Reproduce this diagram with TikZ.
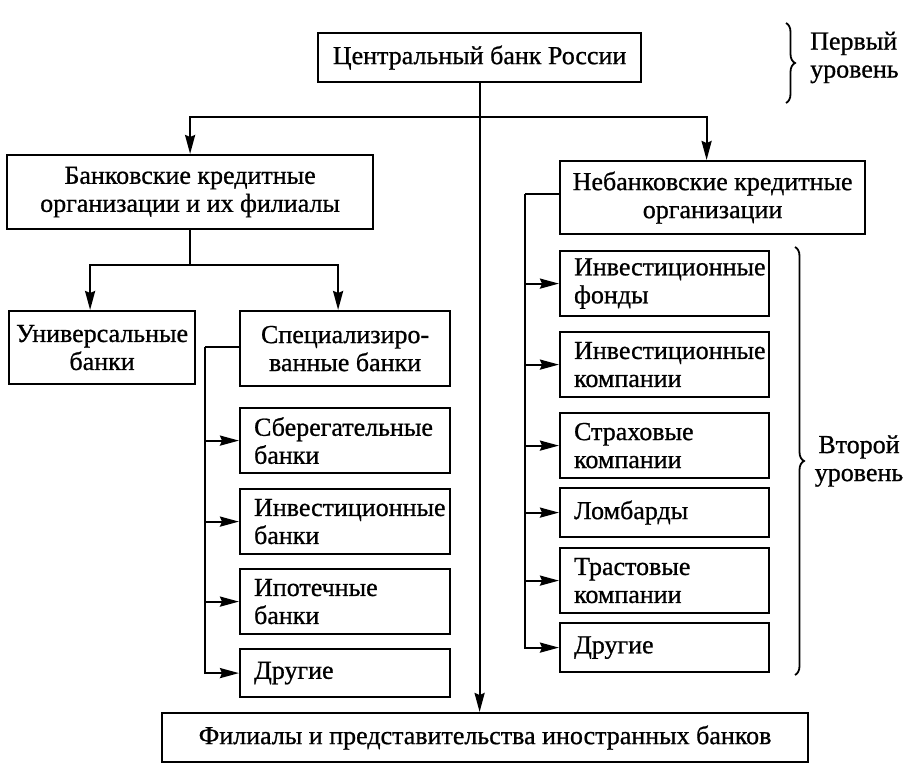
\documentclass[tikz,border=0pt]{standalone}
\usepackage{fontspec}
\setmainfont[FakeBold=0.8]{Liberation Serif}
\usetikzlibrary{arrows.meta,decorations.pathreplacing,calc}
\begin{document}
\begin{tikzpicture}[x=1pt,y=-1pt,
  txt/.style={font=\fontsize{26}{28}\selectfont},
  cbox/.style 2 args={draw,line width=2.2pt,anchor=north west,inner sep=0pt,txt,
     minimum width=#1pt,minimum height=#2pt,align=center},
  lbox/.style 2 args={draw,line width=2.2pt,anchor=north west,inner sep=0pt,txt,
     minimum width=#1pt,minimum height=#2pt,text width=#1pt-28pt,align=left},
  ln/.style={line width=2.2pt},
  arr/.style={line width=2.2pt,-{Stealth[length=19pt,width=10pt,inset=2pt]}},
  brc/.style={line width=1.8pt,decorate,decoration={brace,amplitude=9pt}}]
\useasboundingbox (0,0) rectangle (916,773);
% nodes
\node[cbox={323}{49}] (cb) at (317,32) {Центральный банк России};
\node[cbox={366}{74}] (bank) at (6,154) {Банковские кредитные\\организации и их филиалы};
\node[cbox={305}{73}] (nonbank) at (559,160) {Небанковские кредитные\\организации};
\node[cbox={186}{73}] (univ) at (8,310) {Универсальные\\банки};
\node[cbox={210}{75}] (spec) at (239,310) {Специализиро-\\ванные банки};
\node[lbox={210}{65}] (sav) at (239,407) {Сберегательные\\банки};
\node[lbox={210}{65}] (invb) at (239,488) {Инвестиционные\\банки};
\node[lbox={210}{65}] (mort) at (239,568) {Ипотечные\\банки};
\node[lbox={210}{48}] (oth1) at (239,648) {Другие};
\node[lbox={209}{65}] (fund) at (559,250) {Инвестиционные\\фонды};
\node[lbox={209}{65}] (invc) at (559,331) {Инвестиционные\\компании};
\node[lbox={209}{65}] (ins) at (559,412) {Страховые\\компании};
\node[lbox={209}{49}] (lomb) at (559,487) {Ломбарды};
\node[lbox={209}{65}] (trust) at (559,547) {Трастовые\\компании};
\node[lbox={209}{49}] (oth2) at (559,622) {Другие};
\node[cbox={646}{49}] (foreign) at (161,712) {Филиалы и представительства иностранных банков};
% connectors
\coordinate (j0) at (cb.south |- 0,117);
\draw[arr] (cb.south) -- (cb.south |- foreign.north);
\draw[arr] (j0) -| (bank.north);
\draw[arr] (j0) -| ($(nonbank.north)+(-6,0)$);
\coordinate (j1) at (bank.south |- 0,265);
\draw[ln] (bank.south) -- (j1);
\draw[arr] (j1) -| ($(univ.north)+(-12,0)$);
\draw[arr] (j1) -| ($(spec.north)+(-7,0)$);
\coordinate (s0) at (205,347);
\draw[ln] (spec.west |- s0) -- (s0);
\draw[arr] (s0) |- (oth1.west);
\draw[arr] (s0 |- sav.west) -- (sav.west);
\draw[arr] (s0 |- invb.west) -- (invb.west);
\draw[arr] (s0 |- mort.west) -- (mort.west);
\coordinate (n0) at (525,194);
\draw[ln] (nonbank.west |- n0) -- (n0);
\draw[arr] (n0) |- (oth2.west);
\draw[arr] (n0 |- fund.west) -- (fund.west);
\draw[arr] (n0 |- invc.west) -- (invc.west);
\draw[arr] (n0 |- ins.west) -- (ins.west);
\draw[arr] (n0 |- lomb.west) -- (lomb.west);
\draw[arr] (n0 |- trust.west) -- (trust.west);
% braces
\coordinate (b1a) at (786,23);
\coordinate (b1b) at (786,103);
\draw[brc] (b1a) -- (b1b);
\node[txt,anchor=west,align=left,inner sep=0pt] (lvl1) at (810,57.5) {Первый\\уровень};
\coordinate (b2a) at (795,247);
\coordinate (b2b) at (795,675);
\draw[brc] (b2a) -- (b2b);
\node[txt,align=center,inner sep=0pt] (lvl2) at (859,461) {Второй\\уровень};
\end{tikzpicture}
\end{document}
